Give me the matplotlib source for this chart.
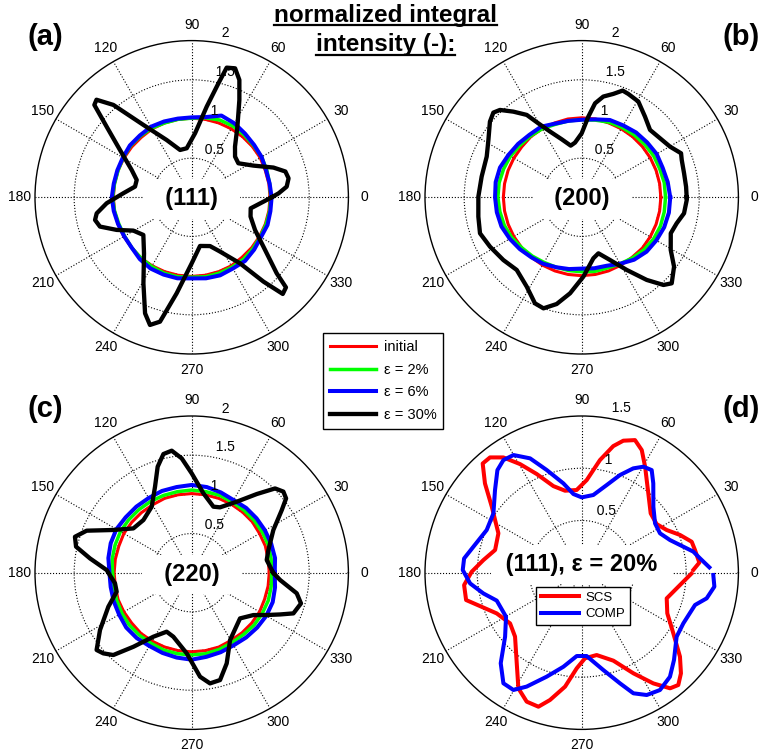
import numpy as np
import matplotlib.pyplot as plt
from matplotlib.lines import Line2D

plt.rcParams['font.family'] = ['Liberation Sans', 'DejaVu Sans']

# near-circular curves, read every 10 deg
ang10 = list(range(0, 361, 10))

a_init = [1.00, 1.00, 1.00, 1.01, 1.01, 1.01, 1.01, 1.01, 1.01, 1.01, 1.01, 1.01, 1.01,
          1.00, 1.00, 1.00, 1.00, 1.00, 1.00, 1.00, 1.00, 1.00, 1.00, 1.01, 1.01, 1.01,
          1.01, 1.01, 1.01, 1.01, 1.01, 1.00, 1.00, 1.00, 1.00, 1.00, 1.00]
a_eps2 = [1.01, 1.01, 1.02, 1.03, 1.03, 1.04, 1.05, 1.05, 1.03, 1.01, 1.01, 1.01, 1.02,
          1.02, 1.02, 1.01, 1.00, 1.00, 1.01, 1.00, 0.99, 0.99, 1.00, 1.01, 1.02, 1.03,
          1.03, 1.02, 1.03, 1.03, 1.03, 1.03, 1.02, 1.01, 1.01, 1.01, 1.01]
a_eps6 = [1.02, 1.01, 1.01, 1.03, 1.04, 1.06, 1.09, 1.11, 1.04, 1.02, 1.02, 1.03, 1.04,
          1.03, 1.03, 1.015, 1.01, 1.01, 1.02, 1.01, 1.00, 0.995, 1.00, 1.03, 1.05, 1.05,
          1.05, 1.035, 1.05, 1.06, 1.05, 1.06, 1.04, 1.02, 1.03, 1.02, 1.02]

b_init = [1.01, 1.01, 1.01, 1.01, 1.01, 1.01, 1.01, 1.01, 1.015, 1.015, 1.015, 1.01, 1.01,
          1.01, 1.00, 1.00, 1.00, 1.00, 1.00, 1.00, 1.00, 1.00, 1.00, 1.00, 1.00, 1.00,
          1.00, 1.00, 1.00, 1.00, 1.00, 1.00, 1.01, 1.01, 1.01, 1.01, 1.01]
b_eps2 = [1.07, 1.07, 1.06, 1.06, 1.05, 1.04, 1.03, 1.02, 1.00, 0.99, 0.99, 0.99, 1.01,
          1.02, 1.03, 1.05, 1.06, 1.07, 1.07, 1.06, 1.05, 1.03, 1.00, 0.98, 0.96, 0.95,
          0.95, 0.95, 0.96, 0.96, 0.98, 1.01, 1.04, 1.06, 1.07, 1.07, 1.07]
b_eps6 = [1.13, 1.115, 1.10, 1.105, 1.09, 1.08, 1.06, 1.05, 1.01, 0.99, 0.99, 1.00, 1.04,
          1.04, 1.06, 1.08, 1.11, 1.115, 1.106, 1.10, 1.09, 1.06, 1.03, 1.00, 0.98, 0.95,
          0.93, 0.91, 0.92, 0.93, 0.98, 1.04, 1.08, 1.10, 1.12, 1.13, 1.13]

c_init = [0.99, 0.99, 1.00, 1.00, 1.01, 1.01, 1.01, 1.01, 1.01, 1.01, 1.01, 1.01, 1.00,
          1.00, 1.00, 1.00, 0.99, 0.99, 0.99, 0.99, 1.00, 1.00, 1.00, 1.01, 1.01, 1.01,
          1.01, 1.01, 1.01, 1.01, 1.00, 1.00, 1.00, 1.00, 0.99, 0.99, 0.99]
c_eps2 = [1.02, 1.03, 1.04, 1.04, 1.04, 1.04, 1.04, 1.05, 1.05, 1.055, 1.05, 1.05, 1.05,
          1.05, 1.05, 1.05, 1.04, 1.03, 1.01, 1.01, 1.02, 1.03, 1.04, 1.04, 1.04, 1.05,
          1.05, 1.05, 1.05, 1.04, 1.03, 1.03, 1.04, 1.04, 1.04, 1.03, 1.02]
c_eps6 = [1.06, 1.08, 1.08, 1.08, 1.08, 1.08, 1.07, 1.09, 1.11, 1.12, 1.11, 1.11, 1.10,
          1.10, 1.10, 1.11, 1.10, 1.08, 1.05, 1.05, 1.06, 1.07, 1.09, 1.09, 1.08, 1.09,
          1.10, 1.11, 1.09, 1.08, 1.07, 1.08, 1.09, 1.10, 1.10, 1.08, 1.06]

# eps = 30% curves
a_eps30_deg = [0, 2.6, 6.4, 11.1, 15.4, 20, 27.2, 36.1, 43.2, 49.5, 57.1, 63.9, 67.9, 71.4,
               74.9, 76.8, 80.6, 87, 95.8, 103.8, 113.6, 123.7, 130.3, 134.3, 136.5, 140.3,
               146.6, 155.5, 162.5, 169.3, 176.6, 184, 189.6, 193.2, 197.7, 203.5, 209.7,
               217.9, 229.6, 240.7, 248.1, 251.9, 255.7, 261.1, 270, 279.7, 290.6, 297.5,
               306.2, 310.4, 313.3, 316.3, 318.2, 325.5, 332.7, 341.9, 349.4, 356.5, 360]
a_eps30 = [1.02, 1.11, 1.22, 1.26, 1.24, 1.11, 0.885, 0.737, 0.759, 0.851, 1.074, 1.383,
           1.617, 1.737, 1.714, 1.495, 1.173, 0.818, 0.629, 0.622, 0.798, 1.11, 1.546, 1.74,
           1.713, 1.411, 1.096, 0.842, 0.736, 0.736, 0.874, 1.088, 1.23, 1.267, 1.229, 1.044,
           0.858, 0.782, 0.939, 1.259, 1.596, 1.714, 1.638, 1.24, 0.843, 0.63, 0.665, 0.78,
           1.045, 1.413, 1.695, 1.664, 1.455, 1.11, 0.91, 0.79, 0.766, 0.917, 1.02]

b_eps30_deg = [0, 5.8, 13.2, 20.5, 23.9, 29.8, 37, 44.6, 51.9, 59.4, 65.7, 69, 73, 77.9,
               81.9, 85.3, 90, 97, 102, 109, 115.7, 120.4, 123.7, 128.6, 133.1, 136.2, 140.5,
               148.4, 156.8, 168.3, 179.6, 190.6, 199.5, 208.3, 218.7, 228.2, 238.4, 246.2,
               251, 256.8, 263.1, 271.2, 280.8, 286.6, 294.3, 301.8, 308.2, 313, 316.3, 323.1,
               329.4, 338, 344.7, 351.1, 358.5, 360]
b_eps30 = [1.34, 1.339, 1.342, 1.363, 1.387, 1.30, 1.252, 1.225, 1.309, 1.42, 1.447, 1.459,
           1.38, 1.315, 1.212, 1.033, 0.817, 0.703, 0.674, 0.783, 0.931, 1.095, 1.264, 1.399,
           1.527, 1.562, 1.518, 1.398, 1.319, 1.304, 1.319, 1.342, 1.377, 1.329, 1.281, 1.244,
           1.339, 1.479, 1.499, 1.399, 1.234, 1.013, 0.793, 0.746, 0.878, 1.091, 1.342, 1.53,
           1.589, 1.474, 1.32, 1.226, 1.257, 1.322, 1.341, 1.34]

c_eps30_deg = [0, 9.6, 16.5, 27.6, 34.8, 38.2, 41.5, 45.3, 50.4, 57.6, 66.6, 71.8, 81.6, 90,
               95, 99.3, 103.4, 107.8, 113.1, 121.2, 132.5, 142.8, 151.4, 158.2, 162.9, 167.3,
               172, 178.2, 187.9, 194.2, 202.2, 212, 219.1, 222.4, 226.4, 231.8, 239.1, 247,
               254, 266.5, 274.6, 279.4, 284.8, 291.1, 299.7, 316.6, 325.5, 330.6, 334.7,
               338.2, 344.3, 348.9, 355.3, 360]
c_eps30 = [1.04, 0.971, 1.021, 1.176, 1.40, 1.533, 1.562, 1.513, 1.303, 1.073, 0.909, 0.887,
           1.024, 1.268, 1.465, 1.578, 1.557, 1.421, 1.193, 0.985, 0.912, 0.935, 1.139, 1.444,
           1.559, 1.513, 1.311, 1.086, 0.988, 0.988, 1.149, 1.38, 1.564, 1.527, 1.451, 1.203,
           0.952, 0.818, 0.85, 1.032, 1.332, 1.432, 1.417, 1.241, 0.989, 0.849, 0.955, 1.10,
           1.247, 1.398, 1.449, 1.366, 1.132, 1.04]

# panel (d): (111) at eps = 20%
d_scs_deg = [1.5, 4.9, 11.3, 15.7, 21, 26.7, 33, 40.7, 50, 59.1, 63.9, 68.1, 72.5, 76, 80.8,
             86.9, 93.5, 101.5, 108.1, 114.5, 119.6, 124.2, 128.5, 132.2, 137.3, 143.7, 154.7,
             165.3, 172.7, 179.5, 186, 193.3, 198.2, 205.6, 215.3, 223.8, 234.4, 241.3, 246.9,
             252.1, 256, 261.7, 267, 272.2, 280.3, 289.8, 297.2, 302.9, 307.4, 310.7, 314.6,
             319.5, 326.5, 334.6, 343.2, 350.6, 356.9, 359.5]
d_scs = [1.07, 1.13, 1.106, 1.094, 1.008, 0.91, 0.855, 0.871, 0.992, 1.182, 1.307, 1.368,
         1.325, 1.249, 1.092, 0.888, 0.793, 0.801, 0.872, 1.038, 1.196, 1.334, 1.41, 1.411,
         1.26, 1.068, 0.882, 0.857, 0.949, 1.053, 1.132, 1.137, 1.024, 0.902, 0.84, 0.884,
         1.068, 1.262, 1.342, 1.348, 1.256, 1.102, 0.917, 0.82, 0.801, 0.895, 1.083, 1.262,
         1.393, 1.418, 1.353, 1.237, 1.052, 0.907, 0.85, 0.921, 1.006, 1.05]

d_comp_deg = [2.4, 6.9, 10.7, 15.7, 20.3, 26.7, 33.9, 42.6, 51.3, 55.7, 59.8, 63.7, 68.6, 74.1,
              81.5, 90, 96, 101.6, 108.8, 114.3, 120.1, 124.8, 129.4, 136.4, 146.1, 155.8,
              166.5, 173.1, 178.7, 185.5, 191.9, 198.2, 210.2, 219.9, 228.2, 234.7, 239.8,
              244.2, 251.4, 259, 266.6, 273.4, 282.5, 289.1, 293.2, 298, 303.7, 310.3, 316.6,
              326, 333.5, 344.1, 348.4, 354, 359]
d_comp = [1.223, 1.141, 1.087, 0.978, 0.901, 0.839, 0.846, 0.932, 1.096, 1.189, 1.174, 1.114,
          1.004, 0.872, 0.752, 0.721, 0.757, 0.873, 1.038, 1.201, 1.302, 1.313, 1.271, 1.146,
          1.018, 0.997, 1.066, 1.134, 1.139, 1.073, 0.962, 0.856, 0.838, 0.956, 1.163, 1.297,
          1.299, 1.211, 1.05, 0.917, 0.799, 0.799, 0.954, 1.121, 1.256, 1.326, 1.35, 1.306,
          1.216, 1.096, 1.087, 1.128, 1.221, 1.277, 1.26]

labels = ['initial', 'ε = 2%', 'ε = 6%', 'ε = 30%']
colors = ['#ff0000', '#00ff00', '#0000ff', '#000000']
widths = [2.2, 2.5, 2.9, 3.1]

W, H = 763, 754
fig = plt.figure(figsize=(W / 100, H / 100), dpi=100)


def polar_panel(cx, cy, rmax, rad=156.7):
    ax = fig.add_axes([(cx - rad) / W, 1 - (cy + rad) / H, 2 * rad / W, 2 * rad / H],
                      projection='polar')
    ax.set_ylim(0, rmax)
    ax.set_xticks(np.deg2rad(np.arange(0, 360, 30)))
    ax.set_xticklabels([])
    ax.set_yticks(np.arange(0.5, rmax - 0.01, 0.5))
    ax.set_yticklabels([])
    ax.tick_params(length=0)
    ax.grid(True, color='k', linestyle=':', linewidth=0.8)
    ax.spines['polar'].set_linewidth(1.0)
    for deg in range(0, 360, 30):
        ax.text(np.deg2rad(deg), 1.1 * rmax, str(deg), ha='center', va='center', fontsize=10)
    for r in np.arange(0.5, rmax + 0.01, 0.5):
        ax.text(np.deg2rad(82), r + 0.5 / 20, '  %g' % r, ha='left', va='bottom', fontsize=10)
    return ax


def center_label(ax, txt, th, r):
    ax.text(th, r, txt, ha='center', va='center', fontsize=17, fontweight='bold',
            zorder=1.9, bbox=dict(boxstyle='square,pad=0.35', fc='white', ec='none'))


panels = [
    (191.7, 197.3, a_init, a_eps2, a_eps6, a_eps30_deg, a_eps30, '  (111)  '),
    (581.7, 197.3, b_init, b_eps2, b_eps6, b_eps30_deg, b_eps30, '  (200)  '),
    (191.7, 572.7, c_init, c_eps2, c_eps6, c_eps30_deg, c_eps30, '  (220)  '),
]

handles = []
for i, (cx, cy, r0, r2, r6, t30, r30, name) in enumerate(panels):
    ax = polar_panel(cx, cy, 2.0)
    th = np.deg2rad(ang10)
    hs = []
    for rr, col, lw in zip([r0, r2, r6], colors[:3], widths[:3]):
        hs += ax.plot(th, rr, color=col, lw=lw, zorder=2)
    hs += ax.plot(np.deg2rad(t30), r30, color=colors[3], lw=widths[3], zorder=2)
    center_label(ax, name, -np.pi / 2, 0.02)
    if i == 0:
        handles = hs

axd = polar_panel(581.7, 572.7, 1.5, rad=156.7)
axd.plot(np.deg2rad(d_scs_deg), d_scs, color='#ff0000', lw=2.9, label='SCS', zorder=2)
axd.plot(np.deg2rad(d_comp_deg), d_comp, color='#0000ff', lw=2.9, label='COMP', zorder=2)
center_label(axd, ' (111), ε = 20% ', np.pi / 2, 0.077)
legd = axd.legend(loc='center', bbox_to_anchor=(583 / W, 1 - 606 / H),
                  bbox_transform=fig.transFigure, fontsize=9.5, handlelength=2.9,
                  fancybox=False, edgecolor='k', framealpha=1, borderpad=0.35,
                  labelspacing=0.3, handletextpad=0.5)
legd.get_frame().set_linewidth(1.0)

leg = fig.legend(handles, labels, loc='center', bbox_to_anchor=(383 / W, 1 - 381 / H),
                 fontsize=10.5, handlelength=3.2, fancybox=False, edgecolor='k',
                 framealpha=1, borderpad=0.45, labelspacing=0.6, handletextpad=0.5)
leg.get_frame().set_linewidth(1.0)

for txt, x, y in [('(a)', 45, 37), ('(b)', 741, 37), ('(c)', 45, 409), ('(d)', 741, 409)]:
    fig.text(x / W, 1 - y / H, txt, ha='center', va='center', fontsize=21, fontweight='bold')

t1 = fig.text(385.5 / W, 1 - 22 / H, 'normalized integral', ha='center', va='baseline',
              fontsize=17.5, fontweight='bold')
t2 = fig.text(385.5 / W, 1 - 51 / H, 'intensity (-):', ha='center', va='baseline',
              fontsize=17.5, fontweight='bold')
fig.canvas.draw()
rend = fig.canvas.get_renderer()
for t in (t1, t2):
    bb = t.get_window_extent(rend).transformed(fig.transFigure.inverted())
    yl = t.get_position()[1] - 3.5 / H
    fig.add_artist(Line2D([bb.x0, bb.x1], [yl, yl], color='k', lw=1.6,
                          transform=fig.transFigure))

fig.savefig('out.png', dpi=100)
